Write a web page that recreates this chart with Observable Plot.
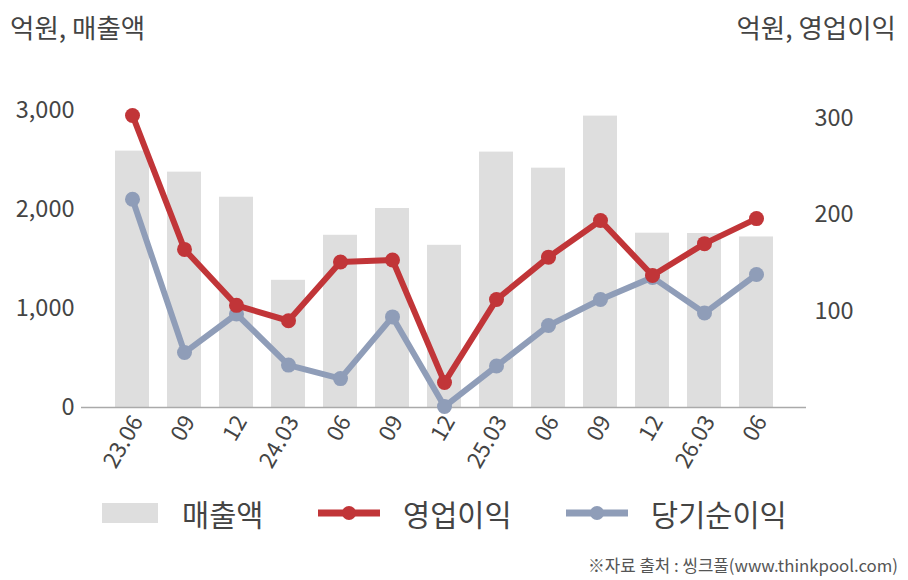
<!DOCTYPE html>
<html>
<head>
<meta charset="utf-8">
<script src="https://cdn.jsdelivr.net/npm/d3@7"></script>
<script src="https://cdn.jsdelivr.net/npm/@observablehq/plot@0.6"></script>
<style>
  html, body { margin: 0; padding: 0; background: #fff; }
  body { width: 908px; height: 580px; position: relative; overflow: hidden;
         font-family: "Noto Sans CJK KR", "Noto Sans", sans-serif; color: #444; }
  #chart { position: absolute; left: 0; top: 0; }
  .title { position: absolute; top: 7px; font-size: 26.5px; color: #444; white-space: nowrap; }
  #tl { left: 10px; }
  #tr { right: 12px; }
  #legend { position: absolute; top: 494px; left: 0; width: 908px; height: 40px; }
  .lg { position: absolute; font-size: 29.5px; color: #444; top: 0; line-height: 38px; white-space: nowrap; }
  .sw { position: absolute; }
  #caption { position: absolute; right: 10px; top: 553px; font-size: 16.8px; color: #555; white-space: nowrap; }
</style>
</head>
<body>
<div id="chart"></div>
<div class="title" id="tl">억원, 매출액</div>
<div class="title" id="tr">억원, 영업이익</div>
<div id="legend"></div>
<div id="caption">※자료 출처 : 씽크풀(www.thinkpool.com)</div>
<script>
const quarters = ["23.06","23.09","23.12","24.03","24.06","24.09","24.12","25.03","25.06","25.09","25.12","26.03","26.06"];
const tickLabels = ["23.06","09","12","24.03","06","09","12","25.03","06","09","12","26.03","06"];
const revenue = [2586, 2374, 2121, 1283, 1737, 2007, 1636, 2576, 2414, 2939, 1758, 1755, 1720];
const opIncome = [303, 164, 106, 90, 151, 153, 26, 112, 156, 194, 137, 170, 196];
const netIncome = [216, 57, 97, 44, 30, 94, 1, 43, 85, 112, 135, 98, 138];
const leftTicks = [0, 1000, 2000, 3000];
const rightTicks = [100, 200, 300];
const seriesNames = ["매출액", "영업이익", "당기순이익"];

const leftMax = 3500, rightMax = 360;
const k = leftMax / rightMax;
const colors = { bar: "#dedede", op: "#c13538", net: "#8f9db8" };

const labelOf = new Map(quarters.map((q, i) => [q, tickLabels[i]]));
const rows = quarters.map((q, i) => ({
  q, rev: revenue[i], op: opIncome[i] * k, net: netIncome[i] * k
}));

const chart = Plot.plot({
  width: 908, height: 480,
  marginLeft: 81, marginRight: 102, marginTop: 60, marginBottom: 73,
  style: { fontFamily: '"Noto Sans CJK KR", "Noto Sans", sans-serif', fontSize: "23px", color: "#444", background: "transparent" },
  x: { type: "band", domain: quarters, paddingInner: 0.35, paddingOuter: 0.62, label: null },
  y: { domain: [0, leftMax], label: null },
  marks: [
    Plot.gridY(leftTicks.filter(d => d > 0), { stroke: "#e4e4e4", strokeOpacity: 1, x1: 83, x2: 808 }),
    Plot.barY(rows, { x: "q", y: "rev", fill: colors.bar }),
    Plot.ruleY([0], { stroke: "#aaa", strokeWidth: 1.5 }),
    Plot.line(rows, { x: "q", y: "net", stroke: colors.net, strokeWidth: 6 }),
    Plot.dot(rows, { x: "q", y: "net", fill: colors.net, r: 7.5 }),
    Plot.line(rows, { x: "q", y: "op", stroke: colors.op, strokeWidth: 6 }),
    Plot.dot(rows, { x: "q", y: "op", fill: colors.op, r: 7.5 }),
    Plot.axisY(leftTicks, { anchor: "left", tickSize: 0, tickPadding: 7, tickFormat: d3.format(","), fontSize: 23.5, label: null }),
    Plot.axisY(rightTicks.map(v => v * k), { anchor: "right", tickSize: 0, tickPadding: 8, tickFormat: d => String(Math.round(d / k)), fontSize: 23.5, label: null }),
    Plot.axisX({ tickSize: 0, tickPadding: 10, dx: 5, tickRotate: -60, tickFormat: d => labelOf.get(d), fontSize: 22.5, label: null })
  ]
});
document.getElementById("chart").appendChild(chart);

// legend
const legend = document.getElementById("legend");
const items = [
  { name: seriesNames[0], type: "bar", color: colors.bar, sx: 102, tx: 182 },
  { name: seriesNames[1], type: "line", color: colors.op, sx: 318, tx: 403 },
  { name: seriesNames[2], type: "line", color: colors.net, sx: 566, tx: 651 }
];
for (const it of items) {
  const sw = document.createElementNS("http://www.w3.org/2000/svg", "svg");
  sw.setAttribute("class", "sw");
  sw.setAttribute("width", 64); sw.setAttribute("height", 38);
  sw.style.left = it.sx + "px"; sw.style.top = "0px";
  if (it.type === "bar") {
    sw.innerHTML = `<rect x="0" y="9" width="56" height="20" fill="${it.color}"/>`;
  } else {
    sw.innerHTML = `<line x1="0" x2="62" y1="19" y2="19" stroke="${it.color}" stroke-width="7"/><circle cx="31" cy="19" r="7" fill="${it.color}"/>`;
  }
  legend.appendChild(sw);
  const t = document.createElement("div");
  t.className = "lg"; t.textContent = it.name; t.style.left = it.tx + "px";
  legend.appendChild(t);
}
</script>
</body>
</html>
